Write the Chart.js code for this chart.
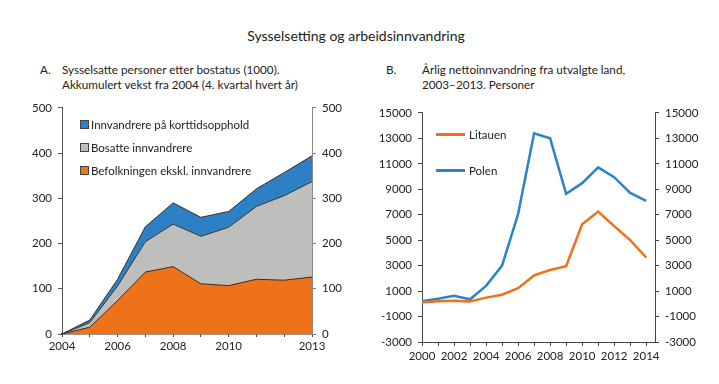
<!DOCTYPE html>
<html><head><meta charset="utf-8">
<script src="https://cdn.jsdelivr.net/npm/chart.js@4"></script>
<style>
body{margin:0;width:719px;height:384px;background:#fff;font-family:Lato,"Open Sans",sans-serif;color:#222;position:relative;overflow:hidden}
.t{position:absolute;white-space:nowrap}
#title{left:0;width:712px;text-align:center;top:27px;font-size:14px}
.sub{font-size:11.7px;line-height:15px}
.leg{font-size:11.5px;position:absolute;white-space:nowrap}
.sq{display:inline-block;width:7px;height:7px;border:1px solid #444;margin-right:2px;vertical-align:0px}
.ln{display:inline-block;width:29px;height:3px;margin-right:4px;vertical-align:3px}
.cw{position:absolute}
</style></head><body>
<div id="title" class="t">Sysselsetting og arbeidsinnvandring</div>
<div class="t sub" style="left:40px;top:62px">A.</div>
<div class="t sub" style="left:62px;top:62px">Sysselsatte personer etter bostatus (1000).<br>Akkumulert vekst fra 2004 (4. kvartal hvert år)</div>
<div class="t sub" style="left:386px;top:62px">B.</div>
<div class="t sub" style="left:422px;top:62px">Årlig nettoinnvandring fra utvalgte land,<br>2003–2013. Personer</div>

<div class="cw" style="left:0;top:95px;width:360px;height:269px"><canvas id="cA"></canvas></div>
<div class="cw" style="left:360px;top:100px;width:359px;height:267px"><canvas id="cB"></canvas></div>

<div class="leg" style="left:80px;top:118px"><span class="sq" style="background:#2C80C3"></span>Innvandrere på korttidsopphold</div>
<div class="leg" style="left:80px;top:141px"><span class="sq" style="background:#BEBEBC"></span>Bosatte innvandrere</div>
<div class="leg" style="left:80px;top:164px"><span class="sq" style="background:#EE7219"></span>Befolkningen ekskl. innvandrere</div>
<div class="leg" style="left:436px;top:128px"><span class="ln" style="background:#EE7219"></span>Litauen</div>
<div class="leg" style="left:436px;top:164px"><span class="ln" style="background:#2B84C6"></span>Polen</div>

<script>
// Chart A data (1000 persons, accumulated growth since 2004)
const yearsA = [2004,2005,2006,2007,2008,2009,2010,2011,2012,2013];
const befolkning = [0,15,74,137,149,111,107,121,119,126];
const bosatte = [0,10,32,67,94,105,129,161,187,211];
const korttid = [0,6,15,33,47,42,35,39,51,57];
const labelsA = [2004,2006,2008,2010,2013];
const ticksA = [0,100,200,300,400,500];

// Chart B data (persons)
const yearsB = [2000,2001,2002,2003,2004,2005,2006,2007,2008,2009,2010,2011,2012,2013,2014];
const litauen = [100,200,250,180,485,715,1230,2230,2660,2950,6250,7250,6100,5000,3640];
const polen = [200,400,640,354,1410,3000,7050,13400,13000,8640,9480,10715,9950,8715,8080];
const labelsB = [2000,2002,2004,2006,2008,2010,2012,2014];

const FONT = {family:'Lato', size:11.5};
const TXT = '#222';
const pts = (xs, ys) => xs.map((x,i)=>({x:x,y:ys[i]}));
const raw = (v)=>String(v);

new Chart(document.getElementById('cA'), {
  type:'line',
  data:{datasets:[
    {label:'Befolkningen ekskl. innvandrere', data:pts(yearsA,befolkning), backgroundColor:'#EE7219', borderColor:'#3a2a20', borderWidth:1, fill:'origin', pointRadius:0, tension:0},
    {label:'Bosatte innvandrere', data:pts(yearsA,bosatte), backgroundColor:'#BEBEBC', borderColor:'#333', borderWidth:1, fill:'-1', pointRadius:0, tension:0},
    {label:'Innvandrere på korttidsopphold', data:pts(yearsA,korttid), backgroundColor:'#2C80C3', borderColor:'#333', borderWidth:1, fill:'-1', pointRadius:0, tension:0}
  ]},
  options:{
    responsive:true, maintainAspectRatio:false, animation:false,
    layout:{padding:{top:8,left:0,right:0,bottom:0}},
    plugins:{legend:{display:false}, tooltip:{enabled:false}},
    scales:{
      x:{type:'linear', min:2004, max:2013,
        grid:{drawOnChartArea:false, drawTicks:true, tickLength:3, color:'#444'},
        border:{color:'#3a2a20', width:1.5},
        ticks:{stepSize:1, autoSkip:false, maxRotation:0, color:TXT, font:FONT, padding:2,
          callback:(v)=> labelsA.includes(v) ? String(v) : ''},
        afterFit:(s)=>{s.height=30;}
      },
      y:{stacked:true, min:0, max:500, position:'left',
        grid:{drawOnChartArea:false, tickLength:4, color:'#555'},
        border:{color:'#555'},
        ticks:{stepSize:100, color:TXT, font:FONT, padding:6, callback:raw},
        afterFit:(s)=>{s.width=62;}
      },
      y2:{min:0, max:500, position:'right',
        grid:{drawOnChartArea:false, tickLength:4, color:'#777'},
        border:{color:'#888'},
        ticks:{stepSize:100, color:TXT, font:FONT, padding:6, callback:raw},
        afterFit:(s)=>{s.width=48;}
      }
    }
  }
});

new Chart(document.getElementById('cB'), {
  type:'line',
  data:{datasets:[
    {label:'Litauen', data:pts(yearsB,litauen), borderColor:'#EE7219', borderWidth:2.5, pointRadius:0, tension:0, fill:false},
    {label:'Polen', data:pts(yearsB,polen), borderColor:'#2B84C6', borderWidth:2.5, pointRadius:0, tension:0, fill:false}
  ]},
  options:{
    responsive:true, maintainAspectRatio:false, animation:false,
    layout:{padding:{top:8,left:0,right:0,bottom:0}},
    plugins:{legend:{display:false}, tooltip:{enabled:false}},
    scales:{
      x:{type:'linear', min:2000, max:2014.55,
        grid:{drawOnChartArea:false, tickLength:4, color:'#444'},
        border:{color:'#444'},
        ticks:{stepSize:1, includeBounds:false, autoSkip:false, maxRotation:0, color:TXT, font:FONT, padding:3,
          callback:(v)=> labelsB.includes(v) ? String(v) : ''},
        afterFit:(s)=>{s.height=25;}
      },
      y:{min:-3000, max:15000, position:'left',
        grid:{drawOnChartArea:false, tickLength:4, color:'#444'},
        border:{color:'#444'},
        ticks:{stepSize:2000, color:TXT, font:FONT, padding:6, callback:raw},
        afterFit:(s)=>{s.width=62;}
      },
      y2:{min:-3000, max:15000, position:'right',
        grid:{drawOnChartArea:false, tickLength:4, color:'#444'},
        border:{color:'#444'},
        ticks:{stepSize:2000, color:TXT, font:FONT, padding:6, callback:raw},
        afterFit:(s)=>{s.width=64;}
      }
    }
  }
});
</script>
</body></html>
